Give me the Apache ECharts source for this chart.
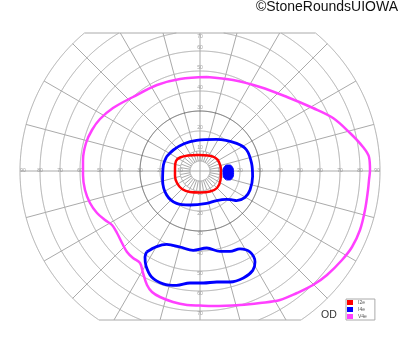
<!DOCTYPE html>
<html><head><meta charset="utf-8">
<script src="https://cdn.jsdelivr.net/npm/echarts@6/dist/echarts.min.js"></script>
<style>html,body{margin:0;padding:0;background:#fff}#c{width:400px;height:352px}</style>
</head><body><div id="c"></div>
<script>
// ---- data (degrees of visual field: x = horizontal, y = vertical) ----
const isopterNames = ['I2e', 'I4e', 'V4e'];
const isopterColors = ['#ff0000', '#0000ff', '#ff40ff'];
const I2e = [[-12.5,1.5],[-12,5],[-10,6.75],[-6,7.75],[-1,8],[4,7.75],[7.5,6.75],[9.5,4.5],[10.5,0.5],[10.25,-4.5],[8.5,-8.5],[5,-10.25],[0,-10.75],[-5,-10.5],[-9,-9],[-11.5,-6],[-12.5,-2.5],[-12.5,1.5]];
const I4e = [[-16.7,7.2],[-13.3,10.5],[-8,13.6],[-1.7,15.3],[8.3,15.8],[18.3,13.8],[23.3,10.5],[25.8,3.8],[26.3,-2.8],[25,-9.5],[22.5,-13.2],[18.3,-14.8],[15.5,-14.3],[13.3,-14.2],[8.3,-14.8],[3.3,-16.2],[-5,-17],[-11.7,-16.2],[-16.7,-12],[-18.7,-4.5],[-18.3,3],[-16.7,7.2]];
const I4eIsland = [[-26.7,-40.5],[-21.7,-37.8],[-16.7,-36.7],[-10,-38],[-3.4,-39.7],[3.4,-38.5],[10,-40.2],[15,-40.2],[20,-38.9],[25,-40.5],[27.5,-45.5],[26.4,-49.7],[21.7,-53.5],[15,-55.5],[8.4,-55.5],[1.7,-56],[-5,-56],[-11.7,-57.2],[-18.4,-56.4],[-24.2,-53],[-27,-47.5],[-27.5,-43],[-26.7,-40.5]];
const blindSpot = [[14.2,3],[16,2.3],[16.8,-0.8],[16,-3.8],[14.2,-4.5],[12.3,-3.8],[11.5,-0.8],[12.3,2.3]];
const V4e = [[3.5,47],[16.5,45.5],[30,42],[43.5,37],[56.5,31.5],[66.5,26.5],[75,19],[81.5,12],[84.5,7],[85,0.5],[84.5,-4.5],[84,-9.5],[82.5,-19.5],[80,-29.5],[76,-38],[71,-44.5],[63.5,-52],[56.5,-57],[48.5,-61],[40,-64.5],[30,-66],[20,-67],[6.5,-67.5],[0,-67.3],[-6.5,-67],[-13.5,-65.5],[-20,-63],[-24,-60.5],[-26.5,-57],[-28.5,-51],[-30,-46],[-33.5,-43.5],[-36.5,-40.5],[-39,-36],[-41.5,-31],[-44,-27],[-47.5,-24.5],[-51.5,-21],[-55,-16],[-57.5,-9.5],[-58.5,-2],[-58.5,5.5],[-57,14],[-54,20.5],[-50,26],[-43.5,31.5],[-33.5,37],[-21.5,43],[-10,46],[3.5,47]];
const hTicks = [10,20,30,40,50,60,70,80,90];
const vTicks = [10,20,30,40,50,60,70];
const rings = [5,10,20,30,40,50,60,70,80,90];
const darkRing = 30;
const meridianStep = 15;
const innerMeridianStep = 10;

// ---- chart furniture (perimetry grid) ----
const Y_TOP = 69, Y_BOT = -74.5, R_MAX = 90;
const rad = d => d * Math.PI / 180;
function ringArcs(r) {
  const arcs = []; let cur = [];
  for (let a = -90; a <= 270.001; a += 0.25) {
    const x = r * Math.cos(rad(a)), y = r * Math.sin(rad(a));
    if (y > Y_TOP || y < Y_BOT) { if (cur.length > 1) arcs.push(cur); cur = []; }
    else cur.push([x, y]);
  }
  if (cur.length > 1) arcs.push(cur);
  return arcs;
}
const grayPaths = [], darkPaths = [];
rings.forEach(r => ringArcs(r).forEach(c => (r === darkRing ? darkPaths : grayPaths).push({coords: c})));
for (let a = 0; a < 360; a += meridianStep) {
  const s = Math.sin(rad(a)), c = Math.cos(rad(a));
  let rEnd = R_MAX;
  if (s > 1e-9) rEnd = Math.min(rEnd, Y_TOP / s);
  if (s < -1e-9) rEnd = Math.min(rEnd, Y_BOT / s);
  const r0 = (a % 90 === 0) ? 0 : 10;
  grayPaths.push({coords: [[r0 * c, r0 * s], [rEnd * c, rEnd * s]]});
}
for (let a = 0; a < 360; a += innerMeridianStep) {
  const s = Math.sin(rad(a)), c = Math.cos(rad(a));
  grayPaths.push({coords: [[5 * c, 5 * s], [10 * c, 10 * s]]});
}
[Y_TOP, Y_BOT].forEach(y => {
  const xe = Math.sqrt(R_MAX * R_MAX - y * y);
  grayPaths.push({coords: [[-xe, y], [xe, y]]});
});

const tickLabels = [];
hTicks.forEach(v => {
  const x = Math.min(v, 88.5);
  tickLabels.push({value: [x, 0], name: String(v)});
  tickLabels.push({value: [-x, 0], name: String(v)});
});
vTicks.forEach(v => {
  tickLabels.push({value: [0, Math.min(v + 1.5, 67.3)], name: String(v)});
  tickLabels.push({value: [0, -(v + 1.5)], name: String(v)});
});

function isoLine(name, data, color, width) {
  return {
    type: 'line', name: name, data: data, smooth: 0.35, showSymbol: false, symbol: 'none',
    lineStyle: {color: color, width: width}, itemStyle: {color: color}, z: 5, silent: true, animation: false
  };
}

const chart = echarts.init(document.getElementById('c'), null, {renderer: 'canvas'});
chart.setOption({
  backgroundColor: '#fff',
  animation: false,
  title: {
    text: '©StoneRoundsUIOWA', right: 2, top: 0, padding: 0,
    textStyle: {fontSize: 14, fontWeight: 'normal', color: '#111', fontFamily: 'Liberation Sans, Arial, sans-serif'}
  },
  legend: {
    data: isopterNames.map((n, i) => ({name: n, icon: 'rect', itemStyle: {color: isopterColors[i]}})),
    orient: 'vertical', left: 346, top: 299,
    itemWidth: 6, itemHeight: 5, itemGap: 2, padding: [1, 8, 1, 1],
    borderColor: '#aaa', borderWidth: 1, selectedMode: false,
    textStyle: {fontSize: 5, color: '#555', fontFamily: 'Liberation Sans, Arial, sans-serif'}
  },
  grid: {left: 20, width: 360, top: 32, height: 289, show: false},
  xAxis: {type: 'value', min: -90, max: 90, show: false},
  yAxis: {type: 'value', min: -75, max: 69.5, show: false},
  graphic: [{
    type: 'text', left: 321, top: 310,
    style: {text: 'OD', fontSize: 10.5, fill: '#333', fontFamily: 'Liberation Sans, Arial, sans-serif'}
  }],
  series: [
    {type: 'lines', coordinateSystem: 'cartesian2d', polyline: true, data: grayPaths, silent: true,
     lineStyle: {color: '#aaaaaa', width: 1, opacity: 1}, z: 1},
    {type: 'lines', coordinateSystem: 'cartesian2d', polyline: true, data: darkPaths, silent: true,
     lineStyle: {color: '#555', width: 1, opacity: 1}, z: 2},
    {type: 'scatter', data: tickLabels, symbolSize: 0, silent: true, z: 3,
     label: {show: true, position: 'inside', formatter: '{b}', fontSize: 5, color: '#8a8a8a',
             fontFamily: 'Liberation Sans, Arial, sans-serif'}},
    isoLine('V4e', V4e, isopterColors[2], 2.5),
    isoLine('I4e', I4e, isopterColors[1], 2.8),
    isoLine('I4e', I4eIsland, isopterColors[1], 2.8),
    isoLine('I2e', I2e, isopterColors[0], 2.5),
    {type: 'custom', name: 'I4e', coordinateSystem: 'cartesian2d', data: blindSpot, z: 6, silent: true,
     itemStyle: {color: isopterColors[1]},
     renderItem: function (params, api) {
       if (params.dataIndex !== 0) return null;
       const pts = blindSpot.map(p => api.coord(p));
       return {type: 'polygon', shape: {points: pts, smooth: 0.5},
               style: {fill: isopterColors[1], stroke: isopterColors[1], lineWidth: 1}};
     }}
  ]
});
</script></body></html>
